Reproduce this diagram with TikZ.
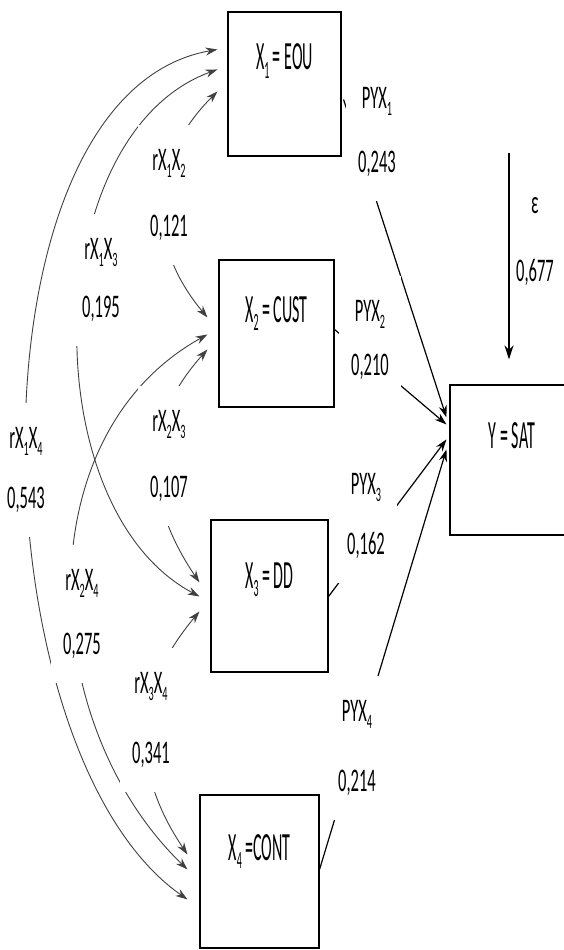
\documentclass[tikz,border=0pt]{standalone}
\usepackage{graphicx}
\usepackage{fontspec}
\setmainfont{Carlito}[FakeStretch=0.5]
\newfontfamily\boxfont{Carlito}[FakeStretch=0.4]
\usetikzlibrary{arrows.meta,calc}
\newcommand{\sub}[1]{\raisebox{-0.22em}{\scalebox{0.62}{#1}}}

\tikzset{
  box/.style={draw, line width=1.1pt, inner sep=0pt, text height=20pt, font=\boxfont\fontsize{40}{46}\selectfont},
  coef/.style={fill=white, inner xsep=12pt, inner ysep=24pt, align=center, font=\fontsize{33}{38}\selectfont},
  patharr/.style={-{Stealth[length=12pt,width=8pt]}, line width=1.2pt},
  corr/.style={{Stealth[length=12pt,width=8pt]}-{Stealth[length=12pt,width=8pt]}, line width=0.9pt, black!75},
}

\begin{document}
\begin{tikzpicture}[x=1pt,y=-1pt]
\useasboundingbox (0,0) rectangle (564,950);
\clip (0,0) rectangle (564,950);
% boxes
\node[box, minimum width=113pt, minimum height=144pt, text depth=48pt] (x1) at (284.5,84) {X\sub{1} = EOU};
\node[box, minimum width=115pt, minimum height=147pt, text depth=43pt] (x2) at (276.5,333.5) {X\sub{2} = CUST};
\node[box, minimum width=117pt, minimum height=152pt, text depth=36pt] (x3) at (269.5,596) {X\sub{3} = DD};
\node[box, minimum width=119pt, minimum height=153pt, text depth=43pt] (x4) at (259.5,871.5) {X\sub{4} =CONT};
\node[box, minimum width=124pt, minimum height=150pt, text depth=44pt] (y) at (512,460) {Y = SAT};
% correlations
\draw[corr] ($(x1.north west)+(-10,38)$) to[out=190,in=145,looseness=0.78] ($(x4.north west)+(-12,105)$);
\draw[corr] ($(x1.north west)+(-10,58)$) to[out=200,in=152,looseness=0.92] ($(x3.north west)+(-11,77)$);
\draw[corr] ($(x1.north west)+(-10,80)$) to[out=225,in=130,looseness=1.1] ($(x2.north west)+(-11,58)$);
\draw[corr] ($(x2.north west)+(-11,90)$) to[out=228,in=124,looseness=1.1] ($(x3.north west)+(-11,63)$);
\draw[corr] ($(x2.north west)+(-11,75)$) to[out=209,in=136,looseness=1.0] ($(x4.north west)+(-12,75)$);
\draw[corr] ($(x3.north west)+(-11,92)$) to[out=230,in=124,looseness=1.09] ($(x4.north west)+(-12,60)$);
\node[coef] (r12) at (169,195) {rX\sub{1}X\sub{2}\\[28pt]0,121};
\node[coef] (r13) at (101,280) {rX\sub{1}X\sub{3}\\[20pt]0,195};
\node[coef] (r14) at (26,470) {rX\sub{1}X\sub{4}\\[22pt]0,543};
\node[coef] (r23) at (169,456) {rX\sub{2}X\sub{3}\\[28pt]0,107};
\node[coef] (r24) at (82,614) {rX\sub{2}X\sub{4}\\[26pt]0,275};
\node[coef] (r34) at (151,720) {rX\sub{3}X\sub{4}\\[32pt]0,341};
% paths to Y
\draw[patharr] ($(x1.north east)+(2,88)$) -- ($(y.north west)+(-3,33)$);
\draw[patharr] ($(x2.north east)+(0,70)$) -- ($(y.north west)+(-3,40)$);
\draw[patharr] ($(x3.north east)+(0,77)$) -- ($(y.north west)+(-3,55)$);
\draw[patharr] ($(x4.north east)+(0,75)$) -- ($(y.north west)+(-3,65)$);
\node[coef] (p1) at (377,132) {PYX\sub{1}\\[26pt]0,243};
\node[coef] (p2) at (370,340) {PYX\sub{2}\\[16pt]0,210};
\node[coef] (p3) at (366,516) {PYX\sub{3}\\[22pt]0,162};
\node[coef] (p4) at (357,748) {PYX\sub{4}\\[32pt]0,214};
% error term
\coordinate (etop) at (509,153);
\draw[-{Stealth[length=14pt,width=9pt]}, line width=1.8pt] (etop) -- ($(y.north)+(-3,-25)$);
\node[coef, fill=none] (eps) at (535,242) {ε\\[30pt]0,677};
\end{tikzpicture}
\end{document}
